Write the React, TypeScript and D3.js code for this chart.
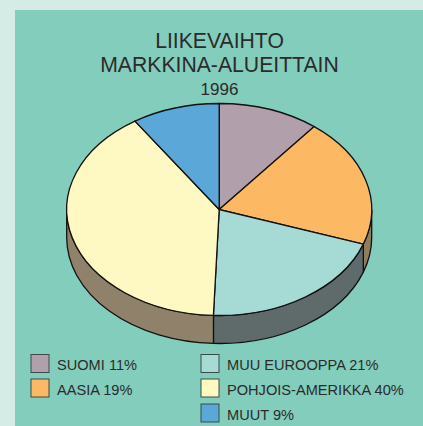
import React from "react";
import * as d3 from "d3";

// Liikevaihto markkina-alueittain 1996
const labels = ["SUOMI", "AASIA", "MUU EUROOPPA", "POHJOIS-AMERIKKA", "MUUT"];
const shares = [11, 19, 21, 40, 9]; // printed in the legend
const sliceValues = [10.7, 19.6, 20.3, 40.1, 9.3];
const topColors = ["#b1a0ab", "#fdb863", "#a6dad5", "#fef9c2", "#5ba7d8"];
const wallColors = ["#6f6a6a", "#8f7d5c", "#5f6a6b", "#90816b", "#3f6f80"];
const titleLines = ["LIIKEVAIHTO", "MARKKINA-ALUEITTAIN"];
const year = "1996";

const FONT = "'Liberation Sans', Arial, sans-serif";
const cx = 219.2;
const cy = 209.5;
const rx = 152.5;
const ry = 106;
const depth = 28;

// legend rows: left column has two entries, the rest go to the right
const legendX = d3.scaleOrdinal<number, number>().domain([0, 1, 2, 3, 4]).range([31, 31, 201, 201, 201]);
const legendY = d3.scaleOrdinal<number, number>().domain([0, 1, 2, 3, 4]).range([354, 378.5, 354, 378.5, 403.5]);

const slices = d3.pie<number>().sort(null).startAngle(0).endAngle(2 * Math.PI)(sliceValues);
const unitArc = d3.arc<d3.PieArcDatum<number>>().innerRadius(0).outerRadius(1);

const px = (a: number) => cx + rx * Math.sin(a);
const py = (a: number, dy = 0) => cy - ry * Math.cos(a) + dy;

// wall of a slice: only the part of the rim that faces the viewer (PI/2..3PI/2)
function wallPath(start: number, end: number) {
  const a0 = Math.max(start, Math.PI / 2);
  const a1 = Math.min(end, (3 * Math.PI) / 2);
  if (a1 <= a0) return null;
  const large = a1 - a0 > Math.PI ? 1 : 0;
  return [
    `M${px(a0)},${py(a0)}`,
    `A${rx},${ry} 0 ${large} 1 ${px(a1)},${py(a1)}`,
    `L${px(a1)},${py(a1, depth)}`,
    `A${rx},${ry} 0 ${large} 0 ${px(a0)},${py(a0, depth)}`,
    "Z",
  ].join("");
}

export default function App() {
  return (
    <svg
      width={423}
      height={426}
      viewBox="0 0 423 426"
      style={{ position: "absolute", left: 0, top: 0, display: "block" }}
      fontFamily={FONT}
    >
      <rect width={423} height={426} fill="#d5ebe6" />
      <rect x={15} y={10} width={408} height={416} fill="#83cdbd" />

      {titleLines.map((t, i) => (
        <text key={t} x={219.5} y={48 + i * 24} textAnchor="middle" fontSize={21.2} fill="#2b2b2b">
          {t}
        </text>
      ))}
      <text x={219.5} y={95} textAnchor="middle" fontSize={17} fill="#2b2b2b">
        {year}
      </text>

      {slices.map((s, i) => {
        const d = wallPath(s.startAngle, s.endAngle);
        return d ? <path key={i} d={d} fill={wallColors[i]} stroke="#111" strokeWidth={1.3} /> : null;
      })}

      <g transform={`translate(${cx},${cy}) scale(${rx},${ry})`}>
        {slices.map((s, i) => (
          <path
            key={i}
            d={unitArc(s) ?? ""}
            fill={topColors[i]}
            stroke="#111"
            strokeWidth={1.3}
            vectorEffect="non-scaling-stroke"
          />
        ))}
      </g>

      {labels.map((l, i) => (
        <g key={l}>
          <rect
            x={legendX(i)}
            y={legendY(i) + 0.5}
            width={18}
            height={18}
            fill={topColors[i]}
            stroke="#3a4a48"
            strokeWidth={1}
          />
          <text x={legendX(i) + 26} y={legendY(i) + 16} fontSize={14.6} fill="#2b2b2b">
            {`${l} ${shares[i]}%`}
          </text>
        </g>
      ))}
    </svg>
  );
}
